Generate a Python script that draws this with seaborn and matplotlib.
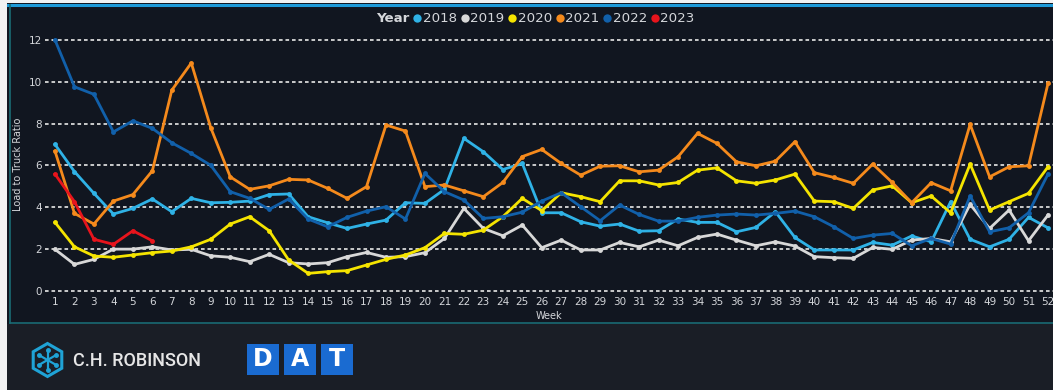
import numpy as np
import pandas as pd
import matplotlib
matplotlib.use('Agg')
import matplotlib.pyplot as plt
import seaborn as sns
from matplotlib.patches import Rectangle, Polygon
from matplotlib.lines import Line2D

# Weekly load-to-truck ratio by year
weeks = list(range(1, 53))
years = ['2018', '2019', '2020', '2021', '2022', '2023']

ratio_2018 = [7.0, 5.7, 4.66, 3.67, 3.94, 4.39, 3.78, 4.42, 4.21, 4.23, 4.29, 4.6, 4.63,
              3.54, 3.25, 2.98, 3.19, 3.38, 4.21, 4.18, 4.85, 7.29, 6.65, 5.8, 6.09, 3.73,
              3.73, 3.3, 3.09, 3.19, 2.85, 2.87, 3.43, 3.27, 3.27, 2.82, 3.03, 3.78, 2.55,
              1.95, 1.95, 1.95, 2.31, 2.18, 2.62, 2.34, 4.26, 2.46, 2.1, 2.46, 3.51, 3.01]
ratio_2019 = [1.98, 1.26, 1.5, 1.99, 1.99, 2.1, 1.95, 1.98, 1.67, 1.6, 1.39, 1.74, 1.34,
              1.28, 1.34, 1.63, 1.83, 1.6, 1.63, 1.82, 2.5, 3.94, 2.98, 2.63, 3.14, 2.06,
              2.42, 1.95, 1.95, 2.31, 2.1, 2.42, 2.15, 2.55, 2.71, 2.42, 2.15, 2.34, 2.14,
              1.63, 1.58, 1.55, 2.07, 1.98, 2.42, 2.5, 2.34, 4.13, 2.98, 3.86, 2.39, 3.62]
ratio_2020 = [3.27, 2.1, 1.66, 1.6, 1.71, 1.82, 1.9, 2.1, 2.46, 3.19, 3.54, 2.87, 1.47,
              0.83, 0.91, 0.96, 1.23, 1.5, 1.71, 2.06, 2.74, 2.7, 2.9, 3.54, 4.42, 3.83,
              4.69, 4.5, 4.26, 5.26, 5.26, 5.06, 5.18, 5.77, 5.88, 5.26, 5.14, 5.3, 5.58,
              4.29, 4.26, 3.94, 4.82, 5.02, 4.21, 4.53, 3.73, 6.06, 3.86, 4.26, 4.66, 5.93]
ratio_2021 = [6.68, 3.7, 3.19, 4.29, 4.6, 5.74, 9.6, 10.9, 7.8, 5.45, 4.85, 5.02, 5.33,
              5.3, 4.9, 4.42, 4.98, 7.93, 7.64, 4.98, 5.06, 4.78, 4.5, 5.18, 6.42, 6.76,
              6.09, 5.53, 5.96, 5.98, 5.69, 5.77, 6.41, 7.53, 7.05, 6.17, 5.98, 6.2, 7.13,
              5.65, 5.42, 5.14, 6.06, 5.18, 4.21, 5.17, 4.78, 7.96, 5.45, 5.93, 5.98, 9.92]
ratio_2022 = [12.0, 9.76, 9.4, 7.6, 8.13, 7.77, 7.08, 6.57, 6.0, 4.74, 4.42, 3.89, 4.39,
              3.43, 3.06, 3.51, 3.81, 4.02, 3.43, 5.61, 4.74, 4.34, 3.46, 3.54, 3.76, 4.29,
              4.69, 4.02, 3.35, 4.1, 3.65, 3.33, 3.33, 3.51, 3.62, 3.67, 3.62, 3.7, 3.81,
              3.54, 3.06, 2.5, 2.66, 2.74, 2.15, 2.5, 2.23, 4.53, 2.82, 3.01, 3.73, 5.58]
ratio_2023 = [5.58, 4.26, 2.46, 2.22, 2.87, 2.39]

series = [ratio_2018, ratio_2019, ratio_2020, ratio_2021, ratio_2022, ratio_2023]
colors = {'2018': '#2fb2e6', '2019': '#d8d8d8', '2020': '#f5e400',
          '2021': '#f58a1c', '2022': '#1160aa', '2023': '#e8141c'}

frames = []
for yr, vals in zip(years, series):
    frames.append(pd.DataFrame({'Week': weeks[:len(vals)], 'Ratio': vals, 'Year': yr}))
df = pd.concat(frames, ignore_index=True)

W, H = 1053, 390
panel_bg = '#111620'
footer_bg = '#1a1e26'
text_col = '#d4d6da'

fig = plt.figure(figsize=(W / 100, H / 100), dpi=100, facecolor=panel_bg)

def fx(x):
    return x / W

def fy(y):
    return 1 - y / H

# background pieces: footer, white edge strips, teal frame, cyan top line
fig.patches.append(Rectangle((0, 0), 1, fy(324), transform=fig.transFigure,
                             facecolor=footer_bg, edgecolor='none', zorder=0))
fig.patches.append(Rectangle((0, 0), fx(7), 1, transform=fig.transFigure,
                             facecolor='#f2f2f2', edgecolor='none', zorder=0))
fig.patches.append(Rectangle((fx(7), fy(3)), 1, fy(0) - fy(3), transform=fig.transFigure,
                             facecolor='#f2f2f2', edgecolor='none', zorder=0))
fig.lines.append(Line2D([fx(8), 1], [fy(4.5), fy(4.5)], transform=fig.transFigure,
                        color='#1e9ad8', lw=2.2))
fig.lines.append(Line2D([fx(9.5), fx(9.5)], [fy(5), fy(323)], transform=fig.transFigure,
                        color='#1a6b74', lw=1.2))
fig.lines.append(Line2D([fx(9.5), 1], [fy(323), fy(323)], transform=fig.transFigure,
                        color='#1a6b74', lw=1.2))

ax = fig.add_axes([fx(45), fy(293), 1 - fx(45), fy(35) - fy(293)])
ax.set_facecolor(panel_bg)

sns.lineplot(data=df, x='Week', y='Ratio', hue='Year', palette=colors,
             marker='o', markersize=3.5, markeredgewidth=0, linewidth=2.0,
             legend=False, ax=ax)

ax.set_xlim(1 - 10 / 19.47, 52 + 5 / 19.47)
ax.set_ylim(-2.3 / 20.9, 12 + 5 / 20.9)
ax.set_xticks(weeks)
ax.set_yticks([0, 2, 4, 6, 8, 10, 12])
ax.tick_params(axis='both', length=0, colors=text_col, labelsize=7.5)
ax.tick_params(axis='x', pad=3)
ax.tick_params(axis='y', pad=2)
for sp in ax.spines.values():
    sp.set_visible(False)
ax.grid(False)
for yv in [0, 2, 4, 6, 8, 10, 12]:
    ax.axhline(yv, color='#d8d8d8', lw=1.3, ls=(0, (2.0, 1.6)), zorder=0)

ax.set_xlabel('Week', color=text_col, fontsize=7, labelpad=3)
ax.set_ylabel('Load to Truck Ratio', color=text_col, fontsize=7, labelpad=4)

# legend row at the top
handles = [Line2D([], [], linestyle='none')]
handles += [Line2D([], [], linestyle='none', marker='o', markersize=6,
                   markerfacecolor=colors[y], markeredgewidth=0) for y in years]
leg = fig.legend(handles, ['Year'] + years, loc='center', bbox_to_anchor=(fx(531), fy(19)),
                 ncol=7, frameon=False, fontsize=9.6, handlelength=0.5, handletextpad=0.15,
                 columnspacing=0.35, labelcolor=text_col)
leg.get_texts()[0].set_fontweight('bold')

# footer logos: hexagon mark drawn in pixel space
logo_col = '#1fa3d6'
cx, cy, r = 47.5, 360, 16.5
hex_pts = [(fx(cx + r * np.cos(np.radians(a))), fy(cy - r * np.sin(np.radians(a))))
           for a in range(30, 390, 60)]
fig.patches.append(Polygon(hex_pts, closed=True, transform=fig.transFigure,
                           facecolor='none', edgecolor=logo_col, lw=2.2))
for ang in [90, 210, 330]:
    dx = 10 * np.cos(np.radians(ang))
    dy = 10 * np.sin(np.radians(ang))
    fig.lines.append(Line2D([fx(cx - dx), fx(cx + dx)], [fy(cy + dy), fy(cy - dy)],
                            transform=fig.transFigure, color=logo_col, lw=1.6))
    for sgn in [1, -1]:
        fig.lines.append(Line2D([fx(cx + sgn * dx)], [fy(cy - sgn * dy)], marker='o',
                                markersize=2.5, color=logo_col, transform=fig.transFigure))
fig.text(fx(73), fy(361), 'C.H. ROBINSON', color='#e6e6e6', fontsize=13,
         family='Roboto', fontweight='medium', va='center', ha='left')

for i, letter in enumerate(['D', 'A', 'T']):
    x0 = 247 + i * 37
    fig.patches.append(Rectangle((fx(x0), fy(375)), fx(31.5), fy(344) - fy(375),
                                 transform=fig.transFigure, facecolor='#1a6bd1',
                                 edgecolor='none'))
    fig.text(fx(x0 + 15.75), fy(359.5), letter, color='white', fontsize=17,
             fontweight='bold', family='DejaVu Sans', ha='center', va='center')

fig.savefig('out.png', dpi=100, facecolor=fig.get_facecolor())
